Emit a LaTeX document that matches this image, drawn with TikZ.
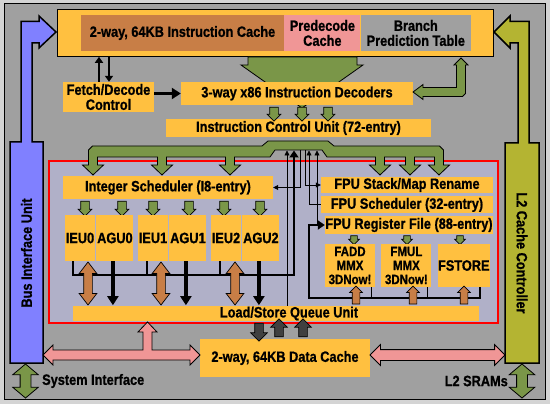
\documentclass[tikz,border=0pt]{standalone}
\usepackage{fontspec}
\newfontfamily\diafont[FakeStretch=0.85, BoldFeatures={FakeBold=0.8}]{Liberation Sans}
\newcommand{\boxfont}{\diafont\bfseries\fontsize{15}{15}\selectfont}
\newcommand{\unitfont}{\diafont\bfseries\fontsize{13.5}{14}\selectfont}
\usetikzlibrary{shapes.arrows, arrows.meta, positioning, calc}

\definecolor{framegray}{RGB}{212,212,212}
\definecolor{bggray}{RGB}{160,160,160}
\definecolor{orng}{RGB}{255,192,64}
\definecolor{brwn}{RGB}{200,126,70}
\definecolor{pnk}{RGB}{240,150,150}
\definecolor{grn}{RGB}{122,150,72}
\definecolor{lav}{RGB}{176,176,200}
\definecolor{blu}{RGB}{128,128,255}
\definecolor{olv}{RGB}{180,180,50}
\definecolor{drk}{RGB}{64,64,64}

\begin{document}
\begin{tikzpicture}[x=1pt, y=-1pt,
    box/.style={rectangle, fill=orng, inner sep=0pt, align=center, font=\boxfont},
    unit/.style={box, minimum height=46pt},
    side/.style={inner sep=0pt, font=\boxfont},
    garr/.style={single arrow, draw=black, line width=0.7pt, fill=grn, inner xsep=0pt, inner ysep=4pt, single arrow head extend=2.5pt},
    brdbl/.style={double arrow, draw=black, line width=0.7pt, fill=brwn, inner xsep=0pt, inner ysep=4pt, double arrow head extend=4.5pt, double arrow tip angle=75, rotate=90},
    brup/.style={single arrow, draw=black, line width=0.7pt, fill=brwn, inner xsep=0pt, inner ysep=3.5pt, single arrow head extend=2.5pt, rotate=90},
    darr/.style={single arrow, draw=black, line width=0.7pt, fill=drk, inner xsep=0pt, inner ysep=4pt, single arrow head extend=4pt},
    pdbl/.style={double arrow, draw=black, line width=0.8pt, fill=pnk, inner xsep=0pt, inner ysep=5pt, double arrow head extend=5pt},
    gdbl/.style={double arrow, draw=black, line width=0.8pt, fill=grn, inner xsep=0pt, inner ysep=5pt, double arrow head extend=7.5pt, double arrow tip angle=100, rotate=90},
    tl/.style={line width=0.8pt, >={Triangle[length=5pt,width=5pt]}},
    tk/.style={line width=2.5pt, >={Triangle[length=7pt,width=9pt]}},
    blk/.style={line width=2.5pt, >={Triangle[length=6pt,width=8pt]}},
    agarr/.style={line width=4pt, >={Triangle[length=9pt,width=11pt]}}]
\useasboundingbox (0,0) rectangle (550,404);
\fill[framegray] (0,0) rectangle (550,404);
\draw[fill=bggray, line width=1pt] (4,4) rectangle (545,399);

% bus interface unit and L2 cache controller
\draw[fill=blu, line width=1.5pt] (10,363) -- (10,142) -- (21,142) -- (21,21.5) -- (39,21.5) -- (39,16) -- (56,32) -- (39,48) -- (39,43) -- (32,43) -- (32,142) -- (43,142) -- (43,363) -- cycle;
\draw[fill=olv, line width=1.5pt] (539,363) -- (539,143) -- (529,143) -- (529,21.5) -- (510,21.5) -- (510,16) -- (494,32) -- (510,48) -- (510,43) -- (518,43) -- (518,143) -- (505,143) -- (505,363) -- cycle;
\node[side, rotate=90] (biu) at (26.5,253) {Bus Interface Unit};
\node[side, rotate=-90] (l2) at (522,253) {L2 Cache Controller};

% instruction side
\node[box, draw=black, line width=1pt, minimum width=436pt, minimum height=47pt] (top) at (275,33.5) {};
\node[box, fill=brwn, minimum width=203pt, minimum height=36pt] (icache) at (182.5,33) {2-way, 64KB Instruction Cache};
\node[box, fill=pnk, minimum width=76pt, minimum height=36pt, right=0pt of icache] (predec) {Predecode\\Cache};
\node[box, fill=bggray, minimum width=110pt, minimum height=36pt, right=0pt of predec] (bpt) {Branch\\Prediction Table};
\draw[fill=grn, line width=0.8pt] (248,57) -- (248,65) -- (241,65) -- (302,108) -- (363,65) -- (357,65) -- (357,57) -- cycle;
\node[box, minimum width=91pt, minimum height=30pt] (fetch) at (108.5,97) {Fetch/Decode\\Control};
\node[box, minimum width=232pt, minimum height=23pt] (dec) at (297,93.5) {3-way x86 Instruction Decoders};
\node[box, minimum width=265pt, minimum height=18pt] (icu) at (298.5,128) {Instruction Control Unit (72-entry)};
\draw[blk, ->] ($(fetch.north)+(-9.5,0)$) -- ++(0,-25);
\draw[blk, ->] ($(fetch.north)+(0.5,-25)$) -- ++(0,25);
\draw[blk, line width=3pt, >={Triangle[length=9pt,width=11pt]}, ->] (fetch.east |- dec.west) -- (dec.west);
\draw[fill=grn, line width=0.8pt] (461,58) -- (468,65) -- (465.5,65) -- (465.5,93.5) -- (462.5,96.5) -- (423,96.5) -- (423,99.5) -- (413,92) -- (423,84.5) -- (423,87.5) -- (456.5,87.5) -- (456.5,65) -- (454,65) -- cycle;
\foreach \x [count=\i] in {274,302,328}
  \node[garr, rotate=-90, minimum height=14pt] (d\i) at (\x,112) {};

% execution core
\node[draw=red, line width=2pt, fill=lav, minimum width=449pt, minimum height=162pt, inner sep=0pt] (core) at (273.5,242) {};
\draw[fill=grn, line width=0.8pt] (88.5,150) -- (92.5,146) -- (262,146) -- (268,141) -- (328,141) -- (334,146) -- (439.5,146) -- (443.5,150)
  \foreach \x in {439,410,380} {-- (\x+4.5,157) -- (\x+4.5,165) -- (\x+10.5,165) -- (\x,175) -- (\x-10.5,165) -- (\x-4.5,165) -- (\x-4.5,157)}
  -- (327,157) -- (322,150) -- (275,150) -- (270,157)
  \foreach \x in {230,162,93} {-- (\x+4.5,157) -- (\x+4.5,165) -- (\x+10.5,165) -- (\x,175) -- (\x-10.5,165) -- (\x-4.5,165) -- (\x-4.5,157)}
  -- cycle;
\foreach \n/\x in {1/287,2/294,3/300,4/305,5/309,6/317}
  \coordinate (tap\n) at (\x,150.5);

\node[box, minimum width=210pt, minimum height=23pt] (isch) at (168,187.5) {Integer Scheduler (I8-entry)};
\foreach \x in {85,122,153,189,224,260}
  \node[garr, rotate=-90, minimum height=15pt] (g\x) at (\x,206.5) {};
\node[unit, minimum width=30pt] (ieu0) at (80,238) {IEU0};
\node[unit, minimum width=37pt, right=1pt of ieu0] (agu0) {AGU0};
\node[unit, minimum width=30pt] (ieu1) at (153,238) {IEU1};
\node[unit, minimum width=37pt, right=1pt of ieu1] (agu1) {AGU1};
\node[unit, minimum width=30pt] (ieu2) at (226,238) {IEU2};
\node[unit, minimum width=37pt, right=1pt of ieu2] (agu2) {AGU2};

\node[box, minimum width=172pt, minimum height=16pt] (fstack) at (407,185) {FPU Stack/Map Rename};
\node[box, minimum width=172pt, minimum height=17pt, below=3pt of fstack] (fsch) {FPU Scheduler (32-entry)};
\node[box, minimum width=168pt, minimum height=18pt] (freg) at (409,225) {FPU Register File (88-entry)};
\foreach \x in {354,407,460}
  \node[garr, rotate=-90, inner ysep=3pt, single arrow head extend=2pt, minimum height=9pt] (f\x) at (\x,238.5) {};
\node[box, font=\unitfont, minimum width=50pt, minimum height=43pt] (fadd) at (350,265.5) {FADD\\MMX\\3DNow!};
\node[box, font=\unitfont, minimum width=50pt, minimum height=43pt, right=6pt of fadd] (fmul) {FMUL\\MMX\\3DNow!};
\node[box, minimum width=52pt, minimum height=43pt, right=6pt of fmul] (fstore) {FSTORE};

\node[box, minimum width=406pt, minimum height=15pt] (lsq) at (276,313.5) {\hspace*{26pt}Load/Store Queue Unit};

% result and control lines
\draw[tl, ->] (tap1 |- lsq.north) -- (tap1);
\draw[tk, ->] ($(ieu0.south west)+(8,0)$) |- ($(tap2)+(0,124.5)$) -- (tap2);
\foreach \u in {ieu1,ieu2}
  \draw[tk] ($(\u.south west)+(9,0)$) -- ++(0,14);
\draw[tl, ->] (tap3) |- (isch.east);
\draw[tl, ->] (tap4) |- (fstack.west);
\draw[tl, ->] (fsch.west) -| (tap5);
\draw[tl, ->] (tap6 |- freg.west) -- (tap6);
\draw[tk, ->] ($(fstore.south east)+(-10,0)$) |- ($(tap5)+(0,147.5)$) |- (freg.west);
\foreach \u in {fadd,fmul}
  \draw[tl] ($(\u.south east)+(-4,0)$) -- ++(0,11);
\foreach \u in {agu0,agu1,agu2}
  \draw[agarr, ->] ($(\u.south)+(-2,0)$) -- ++(0,44);
\foreach \u/\x in {0/88,1/161,2/235}
  \node[brdbl, minimum height=43pt] (mem\u) at (\x,283.5) {};
\foreach \u/\x in {1/356,2/413,3/464}
  \node[brup, minimum height=18pt] (fld\u) at (\x,297) {};

% data cache and external interfaces
\node[box, minimum width=170pt, minimum height=38pt] (dcache) at (285,358) {2-way, 64KB Data Cache};
\node[darr, rotate=-90, minimum height=18pt] (st) at (259,330) {};
\node[darr, rotate=90, minimum height=18pt] (ld1) at (279,330) {};
\node[darr, rotate=90, minimum height=18pt] (ld2) at (303,330) {};
\draw[fill=pnk, line width=0.8pt] (43,355) -- (53,345) -- (53,350) -- (143,350) -- (143,332) -- (138,332) -- (147.5,322) -- (157,332) -- (152,332) -- (152,350) -- (190,350) -- (190,345) -- (200,355) -- (190,365) -- (190,360) -- (53,360) -- (53,365) -- cycle;
\node[pdbl, minimum height=135pt] (l2bus) at (437.5,355) {};
\node[gdbl, minimum height=34pt] (sysif) at (25.5,381) {};
\node[gdbl, minimum height=34pt] (sram) at (522,381) {};
\node[side, anchor=west] (sysl) at (42,381) {System Interface};
\node[side, anchor=east] (sraml) at (508,381) {L2 SRAMs};
\end{tikzpicture}
\end{document}
